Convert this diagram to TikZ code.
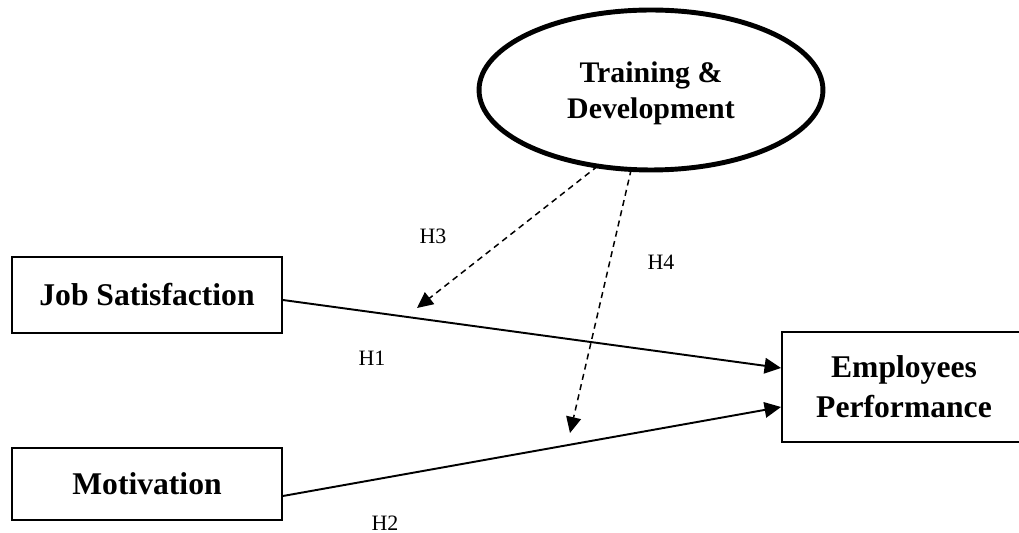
\documentclass[tikz,border=0pt]{standalone}
\usepackage{fontspec}
\setmainfont{Liberation Serif}
\usepackage{tikz}
\usetikzlibrary{arrows.meta}
\usetikzlibrary{shapes}
\usetikzlibrary{positioning}
\tikzset{>=latex}

\begin{document}
\begin{tikzpicture}[
        x=0.02cm, y=-0.02cm,
        varbox/.style={draw, line width=1.1pt, rectangle, align=center, inner sep=0pt,
            font=\fontsize{18}{22.8}\selectfont\bfseries},
        moderator/.style={draw, line width=2.8pt, ellipse, align=center, inner sep=0pt, outer sep=0pt,
            font=\fontsize{17}{20.5}\selectfont\bfseries},
        path/.style={draw, line width=1.1pt, -{Triangle[length=3.3mm,width=3.1mm]}},
        modpath/.style={draw, line width=0.85pt, dash pattern=on 1.2mm off 0.9mm,
            -{Triangle[length=3.2mm,width=3mm]}},
        hyp/.style={font=\fontsize{12.5}{15}\selectfont}
    ]

    %=== Canvas ===%
    \useasboundingbox (0,0) rectangle (1019,533);

    %=== Variables ===%
    \node[varbox, minimum width=5.4cm, minimum height=1.52cm] (js) at (147,295) {Job Satisfaction};
    \node[varbox, minimum width=5.4cm, minimum height=1.44cm] (mot) at (147,484) {Motivation};
    % box runs off the right edge, so pad the lines to keep the text where it is
    \node[varbox, minimum width=5.4cm, minimum height=2.2cm] (emp) at (917,387)
        {Employees\rule{0.52cm}{0pt}\\Performance\rule{0.52cm}{0pt}};
    \node[moderator, minimum width=6.88cm, minimum height=3.2cm] (td) at (651,90)
        {\rule{0pt}{0.56cm}Training \&\\Development};

    %=== Direct paths ===%
    \draw[path] ([yshift=-0.1cm]js.east) -- ([yshift=0.38cm]emp.west);
    \draw[path] ([yshift=-0.24cm]mot.east) -- ([yshift=-0.4cm]emp.west);

    %=== Moderating paths ===%
    \coordinate (h3end) at (417,308);
    \coordinate (h4end) at (570,433);
    \draw[modpath] (td.235) -- (h3end);
    \draw[modpath] (td.256) -- (h4end);

    %=== Hypotheses ===%
    \node[hyp] (h1) at (372,358) {H1};
    \node[hyp] (h2) at (385,523) {H2};
    \node[hyp] (h3) at (433,236) {H3};
    \node[hyp] (h4) at (661,262) {H4};
\end{tikzpicture}
\end{document}
